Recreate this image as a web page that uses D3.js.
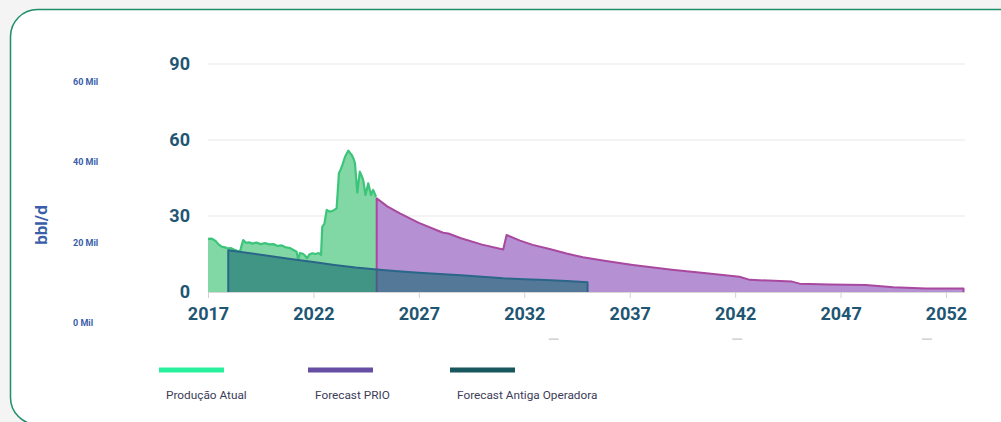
<!DOCTYPE html>
<html>
<head>
<meta charset="utf-8">
<script src="https://cdn.jsdelivr.net/npm/d3@7"></script>
<style>
  html, body { margin: 0; padding: 0; background: #f4f4f4; }
  svg { display: block; }
</style>
</head>
<body>
<div id="chart"></div>
<script>
/**
 * CONSTANTS AND GLOBALS
 * */
const width = 1001,
  height = 422,
  plot = { left: 208, right: 946, top: 64, bottom: 292 },
  tickColor = "#1f5673",
  milColor = "#3a5daa",
  legendX = [159, 308, 450];

/**
 * DATA
 * */
// production (year, kbbl/d)
const productionData = [
  [2017.0, 21.0], [2017.15, 21.1], [2017.25, 20.7], [2017.35, 20.2], [2017.5, 18.8],
  [2017.65, 17.9], [2017.8, 17.6], [2017.95, 17.2], [2018.1, 17.3], [2018.25, 16.7],
  [2018.4, 16.2], [2018.52, 16.0], [2018.6, 18.5], [2018.67, 20.5], [2018.8, 19.4],
  [2018.95, 19.6], [2019.1, 19.1], [2019.3, 19.5], [2019.5, 18.9], [2019.7, 19.3],
  [2019.9, 18.8], [2020.1, 18.9], [2020.3, 18.2], [2020.5, 18.4], [2020.7, 17.6],
  [2020.9, 17.3], [2021.05, 16.6], [2021.2, 15.9], [2021.28, 12.8], [2021.36, 15.4],
  [2021.5, 15.1], [2021.6, 14.4], [2021.7, 13.3], [2021.8, 14.8], [2021.95, 15.3],
  [2022.1, 15.0], [2022.25, 15.4], [2022.36, 14.6], [2022.42, 25.8], [2022.52, 26.9],
  [2022.63, 32.4], [2022.78, 31.7], [2022.95, 32.2], [2023.1, 33.0], [2023.21, 46.9],
  [2023.3, 48.5], [2023.37, 50.1], [2023.5, 53.4], [2023.6, 55.0], [2023.66, 55.8],
  [2023.74, 54.8], [2023.82, 54.1], [2023.92, 52.2], [2023.97, 50.8], [2024.08, 39.2],
  [2024.2, 47.5], [2024.28, 46.0], [2024.36, 44.2], [2024.47, 38.3], [2024.6, 42.9],
  [2024.73, 38.3], [2024.83, 40.3], [2024.97, 37.6]
];
const prioData = [
  [2025.0, 37.0], [2025.5, 33.8], [2026.1, 31.0], [2027.0, 27.3], [2028.15, 23.4],
  [2028.4, 23.1], [2029.0, 21.2], [2030.0, 18.7], [2031.0, 16.8], [2031.16, 22.5],
  [2031.8, 20.3], [2032.4, 18.6], [2033.2, 17.0], [2034.0, 15.2], [2034.78, 13.7],
  [2035.8, 12.3], [2037.15, 10.7], [2039.0, 8.8], [2040.63, 7.4], [2042.2, 6.0],
  [2042.7, 4.8], [2044.7, 4.1], [2045.06, 3.3], [2046.5, 3.0], [2048.2, 2.8],
  [2049.5, 1.9], [2051.05, 1.4], [2052.83, 1.4]
];
const oldOperatorData = [
  [2017.96, 16.5], [2019.0, 15.3], [2020.0, 14.1], [2021.0, 12.9], [2022.0, 11.8],
  [2023.0, 10.7], [2024.0, 9.7], [2025.0, 8.9], [2026.0, 8.2], [2027.0, 7.6],
  [2028.0, 7.1], [2029.0, 6.6], [2030.0, 6.0], [2031.0, 5.4], [2032.0, 5.0],
  [2033.0, 4.7], [2034.0, 4.3], [2035.0, 3.8]
];
const yTicks = [0, 30, 60, 90];
const xTicks = [2017, 2022, 2027, 2032, 2037, 2042, 2047, 2052];
const milTicks = [0, 20, 40, 60];
const ghostMarks = [2033.4, 2042.1, 2051.1];
const legendItems = [
  { label: "Produção Atual", color: "#27ef9b" },
  { label: "Forecast PRIO", color: "#654ea3" },
  { label: "Forecast Antiga Operadora", color: "#18575c" }
];

let svg;

/**
 * INITIALIZING FUNCTION
 * */
function init() {
  svg = d3.select("#chart")
    .append("svg")
    .attr("width", width)
    .attr("height", height);

  // card
  svg.append("rect")
    .attr("x", 10.5).attr("y", 9.5)
    .attr("width", 1020).attr("height", 415)
    .attr("rx", 27)
    .attr("fill", "#ffffff")
    .attr("stroke", "#1f8c6a")
    .attr("stroke-width", 1.5);

  draw();
}

/**
 * DRAW FUNCTION
 * */
function draw() {
  const x = d3.scaleLinear().domain([2017, 2052]).range([plot.left, plot.right]);
  const y = d3.scaleLinear().domain([0, 90]).range([plot.bottom, plot.top]);
  const yMil = d3.scaleLinear().domain([0, 60]).range([323, 82]);

  // grid
  svg.append("g")
    .selectAll("line")
    .data(yTicks.filter(d => d > 0))
    .join("line")
    .attr("x1", x(2017)).attr("x2", x(2052.9))
    .attr("y1", d => y(d)).attr("y2", d => y(d))
    .attr("stroke", "#f0f0f0")
    .attr("stroke-width", 1.5);

  const area = d3.area()
    .x(d => x(d[0]))
    .y0(y(0))
    .y1(d => y(d[1]));
  const line = d3.line()
    .x(d => x(d[0]))
    .y(d => y(d[1]));
  const withEdges = (data, left, right) => {
    const pts = data.slice();
    if (left) pts.unshift([data[0][0], 0]);
    if (right) pts.push([data[data.length - 1][0], 0]);
    return pts;
  };

  // production actual
  svg.append("path")
    .attr("d", area(productionData))
    .attr("fill", "#82d8a4");
  svg.append("path")
    .attr("d", line(productionData))
    .attr("fill", "none")
    .attr("stroke", "#3cc57a")
    .attr("stroke-width", 2.2)
    .attr("stroke-linejoin", "round");

  // forecast PRIO
  svg.append("path")
    .attr("d", area(prioData))
    .attr("fill", "#b590d2");
  svg.append("path")
    .attr("d", line(withEdges(prioData, true, true)))
    .attr("fill", "none")
    .attr("stroke", "#a8489f")
    .attr("stroke-width", 2)
    .attr("stroke-linejoin", "round");

  // forecast antiga operadora
  svg.append("path")
    .attr("d", area(oldOperatorData))
    .attr("fill", "#146970")
    .attr("fill-opacity", 0.6);
  svg.append("path")
    .attr("d", line(withEdges(oldOperatorData, true, true)))
    .attr("fill", "none")
    .attr("stroke", "#2a6688")
    .attr("stroke-width", 2)
    .attr("stroke-linejoin", "round");

  // x axis
  const xAxis = d3.axisBottom(x)
    .tickValues(xTicks)
    .tickFormat(d3.format("d"))
    .tickSize(6)
    .tickPadding(9);
  svg.append("g")
    .attr("transform", `translate(0,${y(0)})`)
    .call(xAxis)
    .call(g => g.select(".domain")
      .attr("d", `M${x(2017)},0.5H${x(2052.9)}`)
      .attr("stroke", "#d6d6d6"))
    .call(g => g.selectAll(".tick line").attr("stroke", "#d2d2d2"))
    .call(g => g.selectAll(".tick text")
      .attr("fill", tickColor)
      .attr("font-family", "Roboto, sans-serif")
      .attr("font-weight", 700)
      .attr("font-size", 18));

  // y axis
  const yAxis = d3.axisLeft(y)
    .tickValues(yTicks)
    .tickSize(0)
    .tickPadding(18);
  svg.append("g")
    .attr("transform", `translate(${plot.left},0)`)
    .call(yAxis)
    .call(g => g.select(".domain").remove())
    .call(g => g.selectAll(".tick text")
      .attr("fill", tickColor)
      .attr("font-family", "Roboto, sans-serif")
      .attr("font-weight", 700)
      .attr("font-size", 18));

  // secondary "Mil" labels
  svg.append("g")
    .selectAll("text")
    .data(milTicks)
    .join("text")
    .attr("x", 73)
    .attr("y", d => yMil(d))
    .attr("dy", "0.35em")
    .attr("fill", milColor)
    .attr("font-family", "Roboto, sans-serif")
    .attr("font-weight", 700)
    .attr("font-size", 9)
    .text(d => `${d} Mil`);

  svg.append("text")
    .attr("transform", "translate(41,225) rotate(-90)")
    .attr("text-anchor", "middle")
    .attr("dy", "0.35em")
    .attr("fill", milColor)
    .attr("font-family", "Roboto, sans-serif")
    .attr("font-weight", 700)
    .attr("font-size", 17)
    .text("bbl/d");

  // faint marks under the axis
  svg.append("g")
    .selectAll("rect")
    .data(ghostMarks)
    .join("rect")
    .attr("x", d => x(d) - 5)
    .attr("y", 338.5)
    .attr("width", 10)
    .attr("height", 1.2)
    .attr("fill", "#c4c4c4");

  // legend
  const legend = svg.append("g")
    .selectAll("g")
    .data(legendItems)
    .join("g")
    .attr("transform", (d, i) => `translate(${legendX[i]},0)`);
  legend.append("rect")
    .attr("x", 0).attr("y", 367.5)
    .attr("width", 65).attr("height", 5)
    .attr("fill", d => d.color);
  legend.append("text")
    .attr("x", 7).attr("y", 394.5)
    .attr("dy", "0.35em")
    .attr("fill", "#3c3c58")
    .attr("font-family", "Roboto, sans-serif")
    .attr("font-size", 11.8)
    .text(d => d.label);
}

init();
</script>
</body>
</html>
